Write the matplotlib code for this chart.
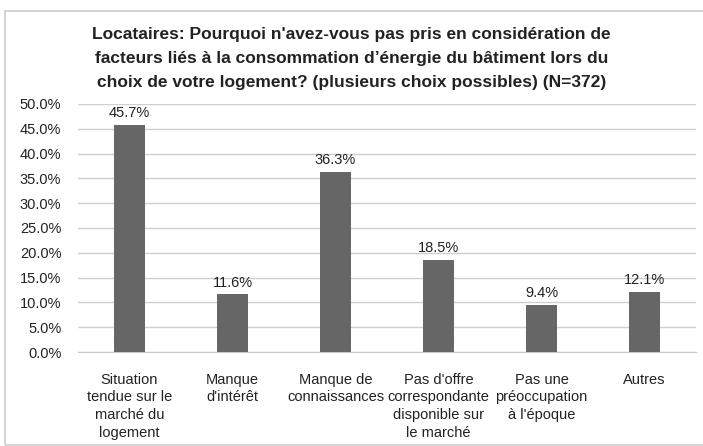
import matplotlib
matplotlib.use("Agg")
import matplotlib.pyplot as plt
from matplotlib.patches import Rectangle
from matplotlib.ticker import FuncFormatter, MultipleLocator

plt.rcParams['font.family'] = ['Liberation Sans', 'DejaVu Sans']

categories = ["Situation\ntendue sur le\nmarché du\nlogement",
              "Manque\nd'intérêt",
              "Manque de\nconnaissances",
              "Pas d'offre\ncorrespondante\ndisponible sur\nle marché",
              "Pas une\npréoccupation\nà l'époque",
              "Autres"]
values = [45.7, 11.6, 36.3, 18.5, 9.4, 12.1]
title = ("Locataires: Pourquoi n'avez-vous pas pris en considération de\n"
         "facteurs liés à la consommation d\u2019énergie du bâtiment lors du\n"
         "choix de votre logement? (plusieurs choix possibles) (N=372)")

fig = plt.figure(figsize=(7.03, 4.46), dpi=100)
ax = fig.add_axes([78/703, 1-352/446, 618/703, 248/446])

x = range(len(values))
bars = ax.bar(x, values, width=0.31, color='#666666', zorder=3)
for xi, v in zip(x, values):
    ax.text(xi, v + 1.0, f"{v:.1f}%", ha='center', va='bottom',
            fontsize=10.5, color='#222222')

ax.set_xlim(-0.5, len(values) - 0.5)
ax.set_ylim(0, 50)
ax.yaxis.set_major_locator(MultipleLocator(5))
ax.yaxis.set_major_formatter(FuncFormatter(lambda v, p: f"{v:.1f}%"))
ax.grid(axis='y', color='#d0d0d0', linewidth=1, zorder=0)
for s in ['top', 'right', 'left']:
    ax.spines[s].set_visible(False)
ax.spines['bottom'].set_color('#c8c8c8')
ax.tick_params(axis='both', length=0, labelsize=10.5, colors='#222222')
ax.tick_params(axis='y', pad=12)
ax.tick_params(axis='x', pad=15)
ax.set_xticks(list(x))
ax.set_xticklabels(categories, linespacing=1.33)

fig.text(0.5, 1-27/446, title, ha='center', va='top', fontsize=12.5,
         fontweight='bold', color='#222222', linespacing=1.75)

fig.patches.append(Rectangle((5/703, 0.003), 1.0, 1-11/446-0.003,
                             transform=fig.transFigure, fill=False,
                             edgecolor='#cccccc', linewidth=1.2))

fig.savefig("out.png", dpi=100)
